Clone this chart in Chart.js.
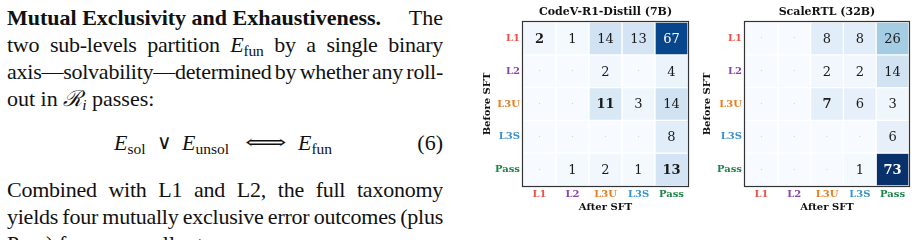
<!DOCTYPE html>
<html>
<head>
<meta charset="utf-8">
<script src="https://cdn.jsdelivr.net/npm/chart.js@4.4.1/dist/chart.umd.min.js"></script>
<style>
  body { margin: 0; background: #fff; width: 917px; height: 240px; overflow: hidden; position: relative;
         font-family: "Liberation Serif", "Times New Roman", serif; color: #111; }
  .ln { position: absolute; left: 7px; width: 436px; font-size: 22px; line-height: 27px; white-space: nowrap; }
  .j { text-align: justify; text-align-last: justify; white-space: normal; word-spacing: -6px;
       letter-spacing: -0.25px; height: 27px; overflow: hidden; }
  .split { display: flex; justify-content: space-between; }
  .sub { font-size: 15.5px; position: relative; top: 4px; }
  .eq { position: absolute; top: 129px; font-size: 22px; line-height: 27px; white-space: nowrap; }
  .op { font-family: "DejaVu Serif", serif; }
  canvas { position: absolute; top: 0; }
</style>
</head>
<body>
<div class="ln split" style="top:4px"><b>Mutual Exclusivity and Exhaustiveness.</b><span>The</span></div>
<div class="ln j" style="top:31px">two sub-levels partition <i>E</i><span class="sub">fun</span> by a single binary</div>
<div class="ln j" style="top:58px">axis—solvability—determined by whether any roll-</div>
<div class="ln" style="top:85px">out in <i>ℛ</i><span class="sub"><i>i</i></span> passes:</div>

<div class="eq" style="left:114px"><i>E</i><span class="sub">sol</span></div>
<div class="eq op" style="left:157px;font-size:20px">∨</div>
<div class="eq" style="left:182px"><i>E</i><span class="sub">unsol</span></div>
<div class="eq op" style="left:245px;width:40px;font-size:20px;"><span style="display:inline-block;transform:scaleX(1.45);transform-origin:left center">⟺</span></div>
<div class="eq" style="left:298px"><i>E</i><span class="sub">fun</span></div>
<div class="eq" style="right:474px">(6)</div>

<div class="ln j" style="top:176px">Combined with L1 and L2, the full taxonomy</div>
<div class="ln j" style="top:203px">yields four mutually exclusive error outcomes (plus</div>
<div class="ln" style="top:230px">Pass) for every rollout.</div>

<canvas id="codev" width="220" height="240" style="left:470px"></canvas>
<canvas id="scalertl" width="227" height="240" style="left:690px"></canvas>

<script>
const afterLabels = ["L1", "L2", "L3U", "L3S", "Pass"];
const beforeLabels = ["L1", "L2", "L3U", "L3S", "Pass"];
const labelColors = ["#e8534a", "#8e44ad", "#e67e22", "#3a94d4", "#1e8449"];

// rows = before SFT, columns = after SFT
const codevL1 = [2, 1, 14, 13, 67];
const codevL2 = [0, 0, 2, 0, 4];
const codevL3U = [0, 0, 11, 3, 14];
const codevL3S = [0, 0, 0, 0, 8];
const codevPass = [0, 1, 2, 1, 13];

const scaleL1 = [0, 0, 8, 8, 26];
const scaleL2 = [0, 0, 2, 2, 14];
const scaleL3U = [0, 0, 7, 6, 3];
const scaleL3S = [0, 0, 0, 0, 6];
const scalePass = [0, 0, 0, 1, 73];

const VMAX = 73;
const SERIF = "'DejaVu Serif', serif";
const BLUES = ["#f7fbff", "#deebf7", "#c6dbef", "#9ecae1", "#6baed6", "#4292c6", "#2171b5", "#08519c", "#08306b"];

const hexToRgb = (h) => [1, 3, 5].map((i) => parseInt(h.slice(i, i + 2), 16));

const blues = (t) => {
  t = Math.max(0, Math.min(1, t));
  const p = t * (BLUES.length - 1);
  const i = Math.min(Math.floor(p), BLUES.length - 2);
  const f = p - i;
  const a = hexToRgb(BLUES[i]);
  const b = hexToRgb(BLUES[i + 1]);
  const c = a.map((v, k) => Math.round(v + (b[k] - v) * f));
  return `rgb(${c[0]}, ${c[1]}, ${c[2]})`;
};

const cellText = {
  id: "cellText",
  afterDatasetsDraw(chart) {
    const { ctx, scales } = chart;
    const counts = chart.config.options.counts;
    ctx.save();
    ctx.textAlign = "center";
    ctx.textBaseline = "middle";
    counts.forEach((row, r) => {
      row.forEach((v, c) => {
        const x = scales.x.getPixelForValue(c);
        const y = scales.y.getPixelForValue(r + 0.5);
        if (v === 0) {
          ctx.fillStyle = "#b8bcc2";
          ctx.font = `8px ${SERIF}`;
          ctx.fillText("·", x, y);
          return;
        }
        ctx.fillStyle = v / VMAX > 0.6 ? "#ffffff" : "#1a1a1a";
        ctx.font = `${r === c ? "bold " : ""}13px ${SERIF}`;
        ctx.fillText(String(v), x, y + 1);
      });
    });
    ctx.restore();
  },
};

const frameAndTitle = {
  id: "frameAndTitle",
  afterDraw(chart) {
    const { ctx, chartArea } = chart;
    const { left, top, right, bottom } = chartArea;
    ctx.save();
    ctx.strokeStyle = "#333333";
    ctx.lineWidth = 1.2;
    ctx.strokeRect(left - 0.5, top - 0.5, right - left + 1, bottom - top + 1);
    ctx.fillStyle = "#111";
    ctx.font = `bold 11px ${SERIF}`;
    ctx.textAlign = "center";
    ctx.textBaseline = "middle";
    ctx.fillText(chart.config.options.heading, (left + right) / 2, 12);
    ctx.restore();
  },
};

const makeHeatmap = (id, heading, counts, yWidth, padRight) => {
  const ctx = document.getElementById(id).getContext("2d");
  return new Chart(ctx, {
    type: "bar",
    data: {
      labels: afterLabels,
      datasets: counts.map((row, r) => ({
        label: beforeLabels[r],
        data: row.map(() => [r, r + 1]),
        backgroundColor: row.map((v) => blues(v / VMAX)),
        borderColor: "#ffffff",
        borderWidth: 1,
        borderSkipped: false,
        grouped: false,
        barPercentage: 1,
        categoryPercentage: 1,
      })),
    },
    options: {
      heading,
      counts,
      responsive: false,
      animation: false,
      events: [],
      layout: { padding: { top: 22, right: padRight, left: 0, bottom: 0 } },
      plugins: { legend: { display: false }, tooltip: { enabled: false } },
      scales: {
        x: {
          type: "category",
          grid: { display: false, drawTicks: false },
          border: { display: false },
          ticks: {
            color: (c) => labelColors[c.index],
            font: { family: SERIF, weight: "bold", size: 10 },
            padding: 2,
            maxRotation: 0,
            autoSkip: false,
          },
          title: {
            display: true,
            text: "After SFT",
            color: "#111",
            font: { family: SERIF, weight: "bold", size: 10 },
            padding: { top: 0, bottom: 27 },
          },
          afterFit: (s) => { s.height = 54; },
        },
        y: {
          type: "linear",
          min: 0,
          max: 5,
          reverse: true,
          grid: { display: false, drawTicks: false },
          border: { display: false },
          afterBuildTicks: (s) => { s.ticks = beforeLabels.map((_, i) => ({ value: i + 0.5 })); },
          ticks: {
            callback: (v, i) => beforeLabels[i],
            color: (c) => labelColors[c.index],
            font: { family: SERIF, weight: "bold", size: 10 },
            padding: 3,
          },
          title: {
            display: true,
            text: "Before SFT",
            color: "#111",
            font: { family: SERIF, weight: "bold", size: 10 },
            padding: { top: 11, bottom: 0 },
          },
          afterFit: (s) => { s.width = yWidth; },
        },
      },
    },
    plugins: [cellText, frameAndTitle],
  });
};

makeHeatmap("codev", "CodeV-R1-Distill (7B)",
  [codevL1, codevL2, codevL3U, codevL3S, codevPass], 53, 2);
makeHeatmap("scalertl", "ScaleRTL (32B)",
  [scaleL1, scaleL2, scaleL3U, scaleL3S, scalePass], 55, 8);
</script>
</body>
</html>
